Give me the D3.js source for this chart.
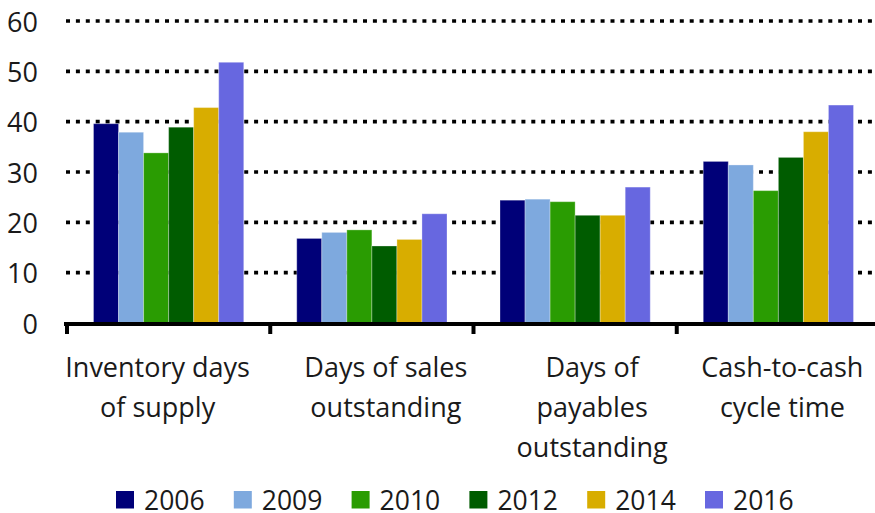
<!DOCTYPE html>
<html>
<head>
<meta charset="utf-8">
<script src="https://cdn.jsdelivr.net/npm/d3@7"></script>
<style>
  html, body { margin: 0; padding: 0; background: #fff; }
  svg { display: block; font-family: 'Open Sans', sans-serif; }
</style>
</head>
<body>
<svg id="chart" width="875" height="513"></svg>
<script>
// data
var categories = [
  ['Inventory days', 'of supply'],
  ['Days of sales', 'outstanding'],
  ['Days of', 'payables', 'outstanding'],
  ['Cash-to-cash', 'cycle time']
]
var years = ['2006', '2009', '2010', '2012', '2014', '2016']
var values = {
  '2006': [39.6, 16.8, 24.4, 32.1],
  '2009': [37.9, 18.0, 24.6, 31.4],
  '2010': [33.8, 18.5, 24.1, 26.3],
  '2012': [38.9, 15.3, 21.4, 32.9],
  '2014': [42.8, 16.6, 21.4, 38.0],
  '2016': [51.8, 21.7, 27.0, 43.3]
}
var yTicks = [0, 10, 20, 30, 40, 50, 60]
var colors = ['#000078', '#7ea9de', '#2a9c02', '#005c00', '#d8ad00', '#6767e0']

// labels sit a bit off the band centre in the original
var labelNudge = [-11, 14, 17, 4]

var svg = d3.select('#chart')
var W = 875

var y = d3.scaleLinear().domain([0, 60]).range([323, 21])
var x0 = d3.scaleBand().domain(d3.range(categories.length)).range([67, 880]).padding(0)
var bw = x0.bandwidth()
var x1 = d3.scaleBand().domain(years).range([26.5, bw - 26.5]).padding(0)
var color = d3.scaleOrdinal().domain(years).range(colors)

// dotted gridlines
svg.append('g').selectAll('line')
  .data(yTicks.filter(function (d) { return d > 0 }))
  .enter().append('line')
  .attr('x1', 66).attr('x2', W)
  .attr('y1', function (d) { return y(d) }).attr('y2', function (d) { return y(d) })
  .attr('stroke', '#000')
  .attr('stroke-width', 3.6)
  .attr('stroke-dasharray', '4,5.9')

// y labels
svg.append('g').selectAll('text')
  .data(yTicks)
  .enter().append('text')
  .attr('x', 38).attr('y', function (d) { return y(d) })
  .attr('text-anchor', 'end')
  .attr('dominant-baseline', 'central')
  .attr('font-size', 27)
  .attr('fill', '#1a1a1a')
  .text(function (d) { return d })

// bars
var groups = svg.append('g').selectAll('g')
  .data(categories)
  .enter().append('g')
  .attr('transform', function (d, i) { return 'translate(' + x0(i) + ',0)' })

groups.selectAll('rect')
  .data(function (d, i) { return years.map(function (yr) { return { year: yr, v: values[yr][i] } }) })
  .enter().append('rect')
  .attr('x', function (d) { return x1(d.year) })
  .attr('width', x1.bandwidth())
  .attr('y', function (d) { return y(d.v) })
  .attr('height', function (d) { return y(0) - y(d.v) })
  .attr('fill', function (d) { return color(d.year) })
  .attr('stroke', 'rgba(255,255,255,0.3)')
  .attr('stroke-width', 1)

// x axis line + ticks
svg.append('line')
  .attr('x1', 64).attr('x2', W)
  .attr('y1', 324).attr('y2', 324)
  .attr('stroke', '#000').attr('stroke-width', 4)

svg.append('g').selectAll('line')
  .data(d3.range(categories.length))
  .enter().append('line')
  .attr('x1', function (d) { return x0(d) }).attr('x2', function (d) { return x0(d) })
  .attr('y1', 322).attr('y2', 334)
  .attr('stroke', '#000').attr('stroke-width', 4)

// category labels
svg.append('g').selectAll('text')
  .data(categories)
  .enter().append('text')
  .attr('text-anchor', 'middle')
  .attr('font-size', 27)
  .attr('fill', '#1a1a1a')
  .each(function (lines, i) {
    var t = d3.select(this)
    var cx = x0(i) + bw / 2 + labelNudge[i]
    lines.forEach(function (l, j) {
      t.append('tspan').attr('x', cx).attr('y', 377 + j * 40).text(l)
    })
  })

// legend
var leg = svg.append('g').selectAll('g')
  .data(years)
  .enter().append('g')
  .attr('transform', function (d, i) { return 'translate(' + (116 + i * 117.8) + ',491)' })
leg.append('rect')
  .attr('width', 18).attr('height', 17.5)
  .attr('fill', function (d) { return color(d) })
leg.append('text')
  .attr('x', 28).attr('y', 8.5)
  .attr('dominant-baseline', 'central')
  .attr('font-size', 26.5)
  .attr('fill', '#1a1a1a')
  .text(function (d) { return d })
</script>
</body>
</html>
